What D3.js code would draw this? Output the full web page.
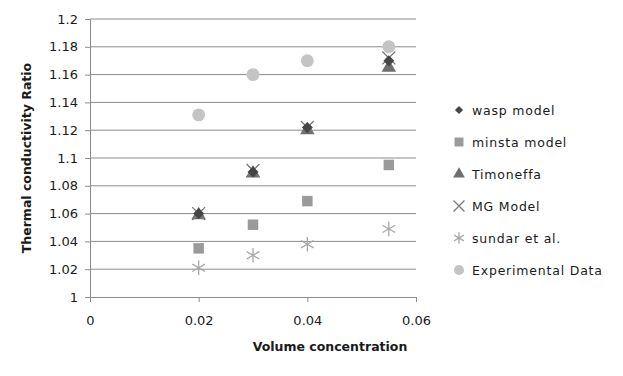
<!DOCTYPE html>
<html>
<head>
<meta charset="utf-8">
<script src="https://cdn.jsdelivr.net/npm/d3@7"></script>
<style>
  body { margin: 0; background: #fff; }
  text { font-family: "DejaVu Sans", sans-serif; fill: #1a1a1a; }
</style>
</head>
<body>
<div id="chart"></div>
<script>
const xVals = [0.02, 0.03, 0.04, 0.055];
const waspModel = [1.06, 1.09, 1.122, 1.17];
const minstaModel = [1.035, 1.052, 1.069, 1.095];
const timoneffa = [1.059, 1.089, 1.12, 1.165];
const mgModel = [1.06, 1.091, 1.122, 1.172];
const sundar = [1.021, 1.03, 1.038, 1.049];
const experimental = [1.131, 1.16, 1.17, 1.18];

const xTicks = [0, 0.02, 0.04, 0.06];
const yTicks = [1, 1.02, 1.04, 1.06, 1.08, 1.1, 1.12, 1.14, 1.16, 1.18, 1.2];

const series = [
  { name: 'wasp model', values: waspModel, shape: 'diamond', color: '#454545' },
  { name: 'minsta model', values: minstaModel, shape: 'square', color: '#9a9a9a' },
  { name: 'Timoneffa', values: timoneffa, shape: 'triangle', color: '#6e6e6e' },
  { name: 'MG Model', values: mgModel, shape: 'x', color: '#7a7a7a' },
  { name: 'sundar et al.', values: sundar, shape: 'star', color: '#a8a8a8' },
  { name: 'Experimental Data', values: experimental, shape: 'circle', color: '#c4c4c4' }
];

const width = 623, height = 376;
const margin = { top: 19, right: 207, bottom: 79, left: 90 };
const w = width - margin.left - margin.right;
const h = height - margin.top - margin.bottom;

const svg = d3.select('#chart').append('svg')
  .attr('width', width).attr('height', height);

const g = svg.append('g')
  .attr('transform', `translate(${margin.left},${margin.top})`);

const x = d3.scaleLinear().domain([0, 0.06]).range([0, w]);
const y = d3.scaleLinear().domain([1, 1.2]).range([h, 0]);

// gridlines
g.selectAll('.grid').data(yTicks.slice(1)).enter().append('line')
  .attr('x1', 0).attr('x2', w)
  .attr('y1', d => y(d)).attr('y2', d => y(d))
  .attr('stroke', '#8c8c8c').attr('stroke-width', 1);

const yAxis = g.append('g')
  .call(d3.axisLeft(y).tickValues(yTicks).tickSize(5).tickPadding(7)
    .tickFormat(d => d3.format('')(+d.toFixed(2))));
const xAxis = g.append('g')
  .attr('transform', `translate(0,${h})`)
  .call(d3.axisBottom(x).tickValues(xTicks).tickSize(5).tickPadding(14)
    .tickFormat(d => d3.format('')(+d.toFixed(2))));

[yAxis, xAxis].forEach(a => {
  a.select('.domain').attr('stroke', '#8c8c8c');
  a.selectAll('.tick line').attr('stroke', '#8c8c8c');
  a.selectAll('text').style('font-size', '13px').attr('fill', '#1a1a1a');
});

const symbolType = {
  diamond: d3.symbolSquare, square: d3.symbolSquare, triangle: d3.symbolTriangle,
  x: d3.symbolTimes, star: d3.symbolAsterisk, circle: d3.symbolCircle
};
const plotSize = { diamond: 60, square: 110, triangle: 90, x: 110, star: 150, circle: 130 };
const legendSize = { diamond: 34, square: 80, triangle: 60, x: 80, star: 90, circle: 80 };
const strokeShapes = ['x', 'star'];

function drawSymbol(sel, s, size) {
  sel.attr('d', d3.symbol().type(symbolType[s.shape]).size(size)());
  if (strokeShapes.includes(s.shape)) {
    sel.attr('fill', 'none').attr('stroke', s.color).attr('stroke-width', 1.3);
  } else {
    sel.attr('fill', s.color);
  }
}
const rot = s => (s.shape === 'diamond' ? ' rotate(45)' : '');

// draw in order so the dark markers sit on top
const drawOrder = [1, 4, 5, 2, 3, 0];
drawOrder.forEach(i => {
  const s = series[i];
  g.selectAll(null).data(s.values).enter().append('path')
    .attr('transform', (d, j) => `translate(${x(xVals[j])},${y(d)})` + rot(s))
    .each(function () { drawSymbol(d3.select(this), s, plotSize[s.shape]); });
});

// axis titles
svg.append('text')
  .attr('transform', `translate(31,${margin.top + h / 2}) rotate(-90)`)
  .attr('text-anchor', 'middle')
  .style('font-size', '12.5px').style('font-weight', 'bold')
  .text('Thermal conductivity Ratio');

svg.append('text')
  .attr('x', 330).attr('y', 351)
  .attr('text-anchor', 'middle')
  .style('font-size', '12.5px').style('font-weight', 'bold')
  .text('Volume concentration');

// legend
const legend = svg.append('g').attr('transform', 'translate(459,110)');
series.forEach((s, i) => {
  const row = legend.append('g').attr('transform', `translate(0,${i * 32})`);
  const p = row.append('path').attr('transform', rot(s).trim());
  drawSymbol(p, s, legendSize[s.shape]);
  row.append('text')
    .attr('x', 13).attr('y', 5)
    .style('font-size', '12.5px')
    .style('letter-spacing', '0.8px')
    .text(s.name);
});
</script>
</body>
</html>
